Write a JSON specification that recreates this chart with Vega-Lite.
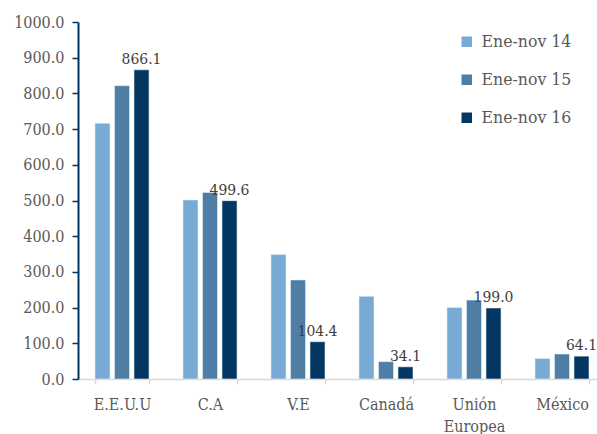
{
  "$schema": "https://vega.github.io/schema/vega-lite/v6.json",
  "autosize": {"type": "none"},
  "width": 519,
  "height": 357,
  "padding": {"left": 78, "top": 22, "right": 0, "bottom": 55},
  "background": "white",
  "config": {"view": {"stroke": null}, "font": "DejaVu Serif Condensed"},
  "data": {
    "values": [
      {"pais": "E.E.U.U", "periodo": "Ene-nov 14", "valor": 716.5},
      {"pais": "E.E.U.U", "periodo": "Ene-nov 15", "valor": 821.5},
      {"pais": "E.E.U.U", "periodo": "Ene-nov 16", "valor": 866.1},
      {"pais": "C.A", "periodo": "Ene-nov 14", "valor": 501.5},
      {"pais": "C.A", "periodo": "Ene-nov 15", "valor": 522.5},
      {"pais": "C.A", "periodo": "Ene-nov 16", "valor": 499.6},
      {"pais": "V.E", "periodo": "Ene-nov 14", "valor": 348.5},
      {"pais": "V.E", "periodo": "Ene-nov 15", "valor": 277.5},
      {"pais": "V.E", "periodo": "Ene-nov 16", "valor": 104.4},
      {"pais": "Canadá", "periodo": "Ene-nov 14", "valor": 231.5},
      {"pais": "Canadá", "periodo": "Ene-nov 15", "valor": 48.5},
      {"pais": "Canadá", "periodo": "Ene-nov 16", "valor": 34.1},
      {"pais": "Unión Europea", "periodo": "Ene-nov 14", "valor": 200.5},
      {"pais": "Unión Europea", "periodo": "Ene-nov 15", "valor": 221.0},
      {"pais": "Unión Europea", "periodo": "Ene-nov 16", "valor": 199.0},
      {"pais": "México", "periodo": "Ene-nov 14", "valor": 57.5},
      {"pais": "México", "periodo": "Ene-nov 15", "valor": 70.0},
      {"pais": "México", "periodo": "Ene-nov 16", "valor": 64.1}
    ]
  },
  "encoding": {
    "x": {
      "field": "pais", "type": "nominal", "sort": null, "title": null,
      "scale": {"range": [0, 528], "paddingInner": 0.386, "paddingOuter": 0.193},
      "axis": {
        "labelAngle": 0, "labelFont": "DejaVu Serif Condensed", "labelFontSize": 16,
        "labelColor": "#595959", "labelPadding": 12, "labelLineHeight": 22,
        "labelBaseline": "top",
        "labelExpr": "split(datum.label, ' ')",
        "domainColor": "#d9d9d9", "domainWidth": 1.5,
        "tickColor": "#d9d9d9", "tickWidth": 1.5, "tickSize": 5, "tickBand": "extent",
        "grid": false
      }
    },
    "xOffset": {"field": "periodo", "type": "nominal", "scale": {"paddingInner": 0.23, "paddingOuter": 0}},
    "y": {
      "field": "valor", "type": "quantitative", "title": null,
      "scale": {"domain": [0, 1000], "nice": false},
      "axis": {
        "values": [0, 100, 200, 300, 400, 500, 600, 700, 800, 900, 1000],
        "format": ".1f", "labelFont": "DejaVu Serif Condensed", "labelFontSize": 16,
        "labelColor": "#595959", "labelPadding": 8,
        "domainColor": "#003660", "domainWidth": 2,
        "tickColor": "#003660", "tickWidth": 1.5, "tickSize": 6,
        "grid": false
      }
    }
  },
  "layer": [
    {
      "mark": {"type": "bar", "stroke": "#e8eef5", "strokeWidth": 0.6},
      "encoding": {
        "color": {
          "field": "periodo", "type": "nominal", "title": null,
          "scale": {"domain": ["Ene-nov 14", "Ene-nov 15", "Ene-nov 16"], "range": ["#78aad3", "#4e7ea6", "#033660"]},
          "legend": {
            "orient": "none", "legendX": 380, "legendY": 11,
            "symbolType": "square", "symbolSize": 110, "symbolStrokeWidth": 0,
            "labelFont": "DejaVu Serif Condensed", "labelFontSize": 17.5, "labelColor": "#595959",
            "labelOffset": 6, "rowPadding": 19
          }
        }
      }
    },
    {
      "transform": [{"filter": "datum.periodo == 'Ene-nov 16'"}],
      "mark": {"type": "text", "baseline": "bottom", "dy": -3, "font": "DejaVu Serif Condensed", "fontSize": 15.5, "color": "#404040"},
      "encoding": {
        "text": {"field": "valor", "type": "quantitative", "format": ".1f"}
      }
    }
  ]
}
